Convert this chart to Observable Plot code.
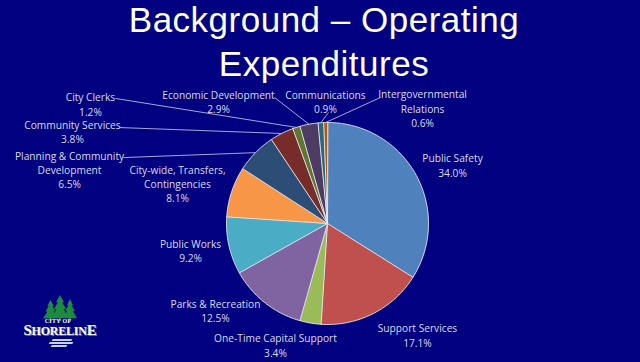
<!DOCTYPE html>
<html><head><meta charset="utf-8">
<script src="https://cdn.jsdelivr.net/npm/d3@7"></script>
<script src="https://cdn.jsdelivr.net/npm/@observablehq/plot@0.6"></script>
<style>
html,body{margin:0;padding:0;background:#000080;}
#wrap{position:relative;width:640px;height:362px;background:#000080;overflow:hidden;}
#chart{position:absolute;left:0;top:0;}
#title{position:absolute;left:4px;top:-2px;width:640px;text-align:center;color:#fff;font-family:"Liberation Sans",Arial,sans-serif;font-size:35px;line-height:44px;letter-spacing:0.5px;}
#logo{position:absolute;left:18px;top:294px;width:84px;height:60px;}
.tree{position:absolute;background:#1e8a3e;clip-path:polygon(50% 0,72% 28%,62% 28%,84% 55%,70% 55%,100% 88%,56% 88%,56% 100%,44% 100%,44% 88%,0 88%,30% 55%,16% 55%,38% 28%,28% 28%);}
.cityof{position:absolute;left:0;top:24px;width:80px;text-align:center;color:#fff;font-family:"Liberation Serif",serif;font-size:6px;font-weight:bold;letter-spacing:0.3px;}
.shore{position:absolute;left:2px;top:28px;width:80px;text-align:center;color:#fff;font-family:"Liberation Serif",serif;font-weight:bold;font-size:12px;text-shadow:1px 1px 0 #5a6fa8;letter-spacing:-0.2px;}
.shore span{font-size:15px;}
.wave{position:absolute;height:2px;background:#c8d4ee;transform:skewX(-30deg);border-radius:1px;}
</style></head><body>
<div id="wrap">
<div id="chart"></div>
<div id="title">Background – Operating<br>Expenditures</div>
<div id="logo">
  <div class="tree" style="left:25px;top:6px;width:15px;height:21px;"></div>
  <div class="tree" style="left:33px;top:1px;width:18px;height:26px;"></div>
  <div class="tree" style="left:45px;top:5px;width:14px;height:22px;"></div>
  <div class="cityof">CITY OF</div>
  <div class="shore"><span>S</span>HORELIN<span>E</span></div>
  <div class="wave" style="left:34px;top:45px;width:20px;"></div>
  <div class="wave" style="left:31px;top:48px;width:24px;"></div>
  <div class="wave" style="left:33px;top:51px;width:16px;"></div>
</div>
</div>
<script>
// ---- data ----
const categories = ["Public Safety","Support Services","One-Time Capital Support","Parks & Recreation","Public Works","City-wide, Transfers, Contingencies","Planning & Community Development","Community Services","City Clerks","Economic Development","Communications","Intergovernmental Relations"];
const labelNames = ["Public Safety","Support Services","One-Time Capital Support","Parks & Recreation","Public Works","City-wide, Transfers,\nContingencies","Planning & Community\nDevelopment","Community Services","City Clerks","Economic Development","Communications","Intergovernmental\nRelations"];
const values = [34.0,17.1,3.4,12.5,9.2,8.1,6.5,3.8,1.2,2.9,0.9,0.6];
const colors = ["#4f81bd","#c0504d","#9bbb59","#8064a2","#4bacc6","#f79646","#2c4d75","#772c2a","#5f7530","#4d3b62","#276a7c","#b65708"];
// label placement, in pie-radius units relative to the pie centre (u right, v up); leader start (lu,lv) or null
const labelU = [1.238,0.891,-0.515,-1.109,-1.356,-1.485,-2.554,-2.525,-2.347,-1.079,-0.020,0.941];
const labelV = [0.579,-1.104,-1.203,-0.861,-0.267,0.396,0.535,0.911,1.183,1.208,1.208,1.144];
const leaderU = [null,null,null,null,null,null,-2.020,-2.059,-2.099,-0.525,0.010,0.525];
const leaderV = [null,null,null,null,null,null,0.653,0.950,1.238,1.248,1.099,1.248];

// ---- geometry ----
const W = 640, H = 362, R = 101, CX = 327, CY = 223;
const total = d3.sum(values);
let acc = 0;
const slices = categories.map((c, i) => {
  const a0 = acc / total * 2 * Math.PI; acc += values[i];
  const a1 = acc / total * 2 * Math.PI;
  return {c, i, a0, a1, mid: (a0 + a1) / 2};
});
const pts = [];
slices.forEach(s => {
  pts.push({c: s.c, x: 0, y: 0});
  const n = Math.max(2, Math.ceil((s.a1 - s.a0) / (Math.PI / 180)));
  for (let k = 0; k <= n; k++) {
    const a = s.a0 + (s.a1 - s.a0) * k / n;
    pts.push({c: s.c, x: Math.sin(a), y: Math.cos(a)});
  }
});
const fmt = d3.format(".1f");
const labels = slices.map(s => ({x: labelU[s.i], y: labelV[s.i], text: labelNames[s.i] + "\n" + fmt(values[s.i]) + "%"}));
const leaders = slices.filter(s => leaderU[s.i] !== null).map(s => ({
  x1: leaderU[s.i], y1: leaderV[s.i], x2: Math.sin(s.mid), y2: Math.cos(s.mid)
}));

const chart = Plot.plot({
  width: W, height: H, margin: 0,
  x: {domain: [-CX / R, (W - CX) / R], axis: null},
  y: {domain: [-(H - CY) / R, CY / R], axis: null},
  color: {domain: categories, range: colors},
  style: {background: "transparent", overflow: "visible"},
  marks: [
    Plot.line(pts, {x: "x", y: "y", z: "c", fill: "c", stroke: "#e8e8ee", strokeWidth: 0.9, curve: "linear-closed"}),
    Plot.link(leaders, {x1: "x1", y1: "y1", x2: "x2", y2: "y2", stroke: "#b8bcd8", strokeWidth: 0.9}),
    Plot.text(labels, {x: "x", y: "y", text: "text", fill: "#dcdce6", fontSize: 10.2, fontFamily: "Open Sans", lineHeight: 1.4, lineAnchor: "middle"})
  ]
});
document.getElementById("chart").appendChild(chart);
</script>
</body></html>
